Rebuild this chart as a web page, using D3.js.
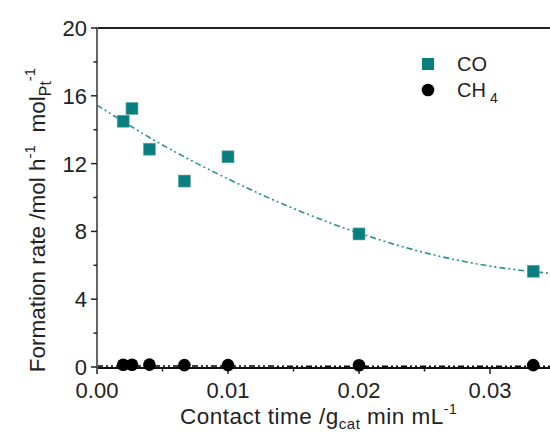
<!DOCTYPE html>
<html>
<head>
<meta charset="utf-8">
<script src="https://cdn.jsdelivr.net/npm/d3@7"></script>
<style>
  body { margin: 0; background: #fff; }
  svg { display: block; font-family: "Liberation Sans", Arial, sans-serif; }
</style>
</head>
<body>
<svg id="chart" width="550" height="439"></svg>
<script>
// Data.
const contactTime = [0.002, 0.00267, 0.004, 0.00667, 0.01, 0.02, 0.0333];
const coRate = [14.5, 15.25, 12.85, 10.97, 12.4, 7.85, 5.65];
const ch4Rate = [0.07, 0.07, 0.08, 0.05, 0.05, 0.04, 0.05];

// Fitted trend for CO, sampled off the dashed curve.
const fitTime = [0, 0.005, 0.01, 0.015, 0.02, 0.025, 0.03, 0.035];
const coFit = [15.45, 13.1, 11.1, 9.35, 7.9, 6.75, 5.95, 5.5];
const ch4Fit = [0.06, 0.06, 0.06, 0.05, 0.05, 0.05, 0.05, 0.05];

const xTicks = [0, 0.01, 0.02, 0.03];
const xMinor = [0.005, 0.015, 0.025];
const yTicks = [0, 4, 8, 12, 16, 20];
const yMinor = [2, 6, 10, 14, 18];

const teal = '#0b7f7f';
const svg = d3.select('#chart');

const plotLeft = 97, plotTop = 28, plotBottom = 367;
const x = d3.scaleLinear().domain([0, 0.035]).range([plotLeft, plotLeft + 0.035 * 13100]);
const y = d3.scaleLinear().domain([0, 20]).range([plotBottom, plotTop]);

// Top frame line
svg.append('line')
  .attr('x1', plotLeft).attr('x2', 550)
  .attr('y1', plotTop).attr('y2', plotTop)
  .attr('stroke', '#222').attr('stroke-width', 2);

// Fit lines
const fitLine = d3.line().x(d => x(d[0])).y(d => y(d[1])).curve(d3.curveMonotoneX);
svg.append('path')
  .datum(fitTime.map((t, i) => [t, coFit[i]]))
  .attr('d', fitLine)
  .attr('fill', 'none')
  .attr('stroke', '#2a8f8f')
  .attr('stroke-width', 1.6)
  .attr('stroke-dasharray', '6,3,2,3,2,3');

svg.append('path')
  .datum(fitTime.map((t, i) => [t, ch4Fit[i]]))
  .attr('d', fitLine)
  .attr('fill', 'none')
  .attr('stroke', '#000')
  .attr('stroke-width', 1.5)
  .attr('stroke-dasharray', '6,3,2,3,2,3');

// Axes
const xAxis = svg.append('g').attr('transform', `translate(0,${plotBottom + 1})`);
xAxis.append('line')
  .attr('x1', plotLeft - 1).attr('x2', 550)
  .attr('stroke', '#111').attr('stroke-width', 2);
xAxis.selectAll('.major').data(xTicks).join('line')
  .attr('x1', d => x(d)).attr('x2', d => x(d))
  .attr('y1', 0).attr('y2', 6)
  .attr('stroke', '#222').attr('stroke-width', 1.5);
xAxis.selectAll('.minor').data(xMinor).join('line')
  .attr('x1', d => x(d)).attr('x2', d => x(d))
  .attr('y1', 0).attr('y2', 3.5)
  .attr('stroke', '#222').attr('stroke-width', 1.5);
xAxis.selectAll('text').data(xTicks).join('text')
  .attr('x', d => x(d))
  .attr('y', 30)
  .attr('text-anchor', 'middle')
  .attr('font-size', 22)
  .attr('fill', '#222')
  .text(d => d3.format('.2f')(d));

const yAxis = svg.append('g');
yAxis.append('line')
  .attr('x1', plotLeft).attr('x2', plotLeft)
  .attr('y1', plotTop - 1).attr('y2', plotBottom + 2)
  .attr('stroke', '#666').attr('stroke-width', 2);
yAxis.selectAll('.major').data(yTicks).join('line')
  .attr('x1', plotLeft - 6).attr('x2', plotLeft)
  .attr('y1', d => y(d)).attr('y2', d => y(d))
  .attr('stroke', '#222').attr('stroke-width', 1.5);
yAxis.selectAll('.minor').data(yMinor).join('line')
  .attr('x1', plotLeft - 3.5).attr('x2', plotLeft)
  .attr('y1', d => y(d)).attr('y2', d => y(d))
  .attr('stroke', '#222').attr('stroke-width', 1.5);
yAxis.selectAll('text').data(yTicks).join('text')
  .attr('x', 87)
  .attr('y', d => y(d))
  .attr('dy', '0.36em')
  .attr('text-anchor', 'end')
  .attr('font-size', 22)
  .attr('fill', '#222')
  .text(d => d);

// CH4 points
svg.selectAll('.ch4').data(contactTime).join('circle')
  .attr('cx', d => x(d))
  .attr('cy', (d, i) => y(ch4Rate[i]) - 1)
  .attr('r', 6.3)
  .attr('fill', '#000');

// CO points
svg.selectAll('.co').data(contactTime).join('rect')
  .attr('x', d => x(d) - 6)
  .attr('y', (d, i) => y(coRate[i]) - 6)
  .attr('width', 12).attr('height', 12)
  .attr('fill', teal)
  .attr('stroke', '#6aa')
  .attr('stroke-width', 0.6);

// Legend
svg.append('rect')
  .attr('x', 422).attr('y', 58).attr('width', 12).attr('height', 12)
  .attr('fill', teal);
svg.append('text')
  .attr('x', 457).attr('y', 71)
  .attr('font-size', 20).attr('fill', '#222')
  .text('CO');
svg.append('circle')
  .attr('cx', 428).attr('cy', 90).attr('r', 6.3)
  .attr('fill', '#000');
const ch4Label = svg.append('text')
  .attr('x', 457).attr('y', 97)
  .attr('font-size', 20).attr('fill', '#222');
ch4Label.append('tspan').text('CH');
ch4Label.append('tspan').attr('dx', 4).attr('dy', 6).attr('font-size', 14).text('4');

// X axis title
const xTitle = svg.append('text')
  .attr('x', 180).attr('y', 424)
  .attr('font-size', 22.5)
  .attr('letter-spacing', 0.5)
  .attr('fill', '#222');
xTitle.append('tspan').text('Contact time /g');
xTitle.append('tspan').attr('dy', 5).attr('font-size', 15).text('cat');
xTitle.append('tspan').attr('dy', -5).text(' min mL');
xTitle.append('tspan').attr('dy', -10).attr('font-size', 14).text('-1');

// Y axis title
const yTitle = svg.append('text')
  .attr('transform', 'translate(45,220) rotate(-90)')
  .attr('text-anchor', 'middle')
  .attr('font-size', 22.5).attr('fill', '#222');
yTitle.append('tspan').text('Formation rate /mol h');
yTitle.append('tspan').attr('dy', -10).attr('font-size', 15).text('-1');
yTitle.append('tspan').attr('dy', 10).text('\u00a0 mol');
yTitle.append('tspan').attr('dy', 6).attr('font-size', 16).text('Pt');
yTitle.append('tspan').attr('dy', -16).attr('font-size', 15).text('-1');
</script>
</body>
</html>
